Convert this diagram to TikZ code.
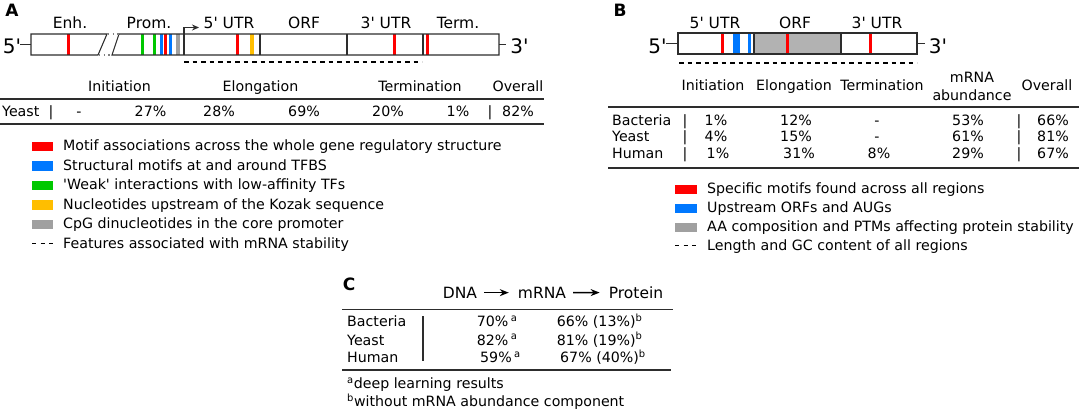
\documentclass[tikz,border=0pt]{standalone}
\usepackage{fontspec}
\setmainfont{DejaVu Sans}[Ligatures=TeXOff]
\usetikzlibrary{arrows.meta}

\definecolor{motifred}{RGB}{255,0,0}
\definecolor{motifblue}{RGB}{0,120,255}
\definecolor{motifgreen}{RGB}{0,200,0}
\definecolor{motiforange}{RGB}{255,190,0}
\definecolor{motifgray}{RGB}{160,160,160}
\definecolor{orfgray}{RGB}{178,178,178}
\definecolor{outline}{RGB}{45,45,45}

\begin{document}
\begin{tikzpicture}[x=1pt, y=-1pt,
			every node/.style={inner sep=0pt, anchor=base},
			txt/.style={font=\fontsize{14.2}{17}\selectfont},
			lbl/.style={font=\fontsize{15.5}{18}\selectfont},
			prime/.style={font=\fontsize{20}{24}\selectfont},
			panel/.style={font=\fontsize{17}{20}\selectfont\bfseries},
			gene/.style={draw=outline, line width=1.1pt},
			bar/.style={line width=3pt},
			rule/.style={draw=outline, line width=1.5pt},
			stability/.style={dash pattern=on 4.5pt off 4pt, line width=1.2pt},
			arrow/.style={-{Stealth[length=9pt, width=7pt]}, line width=1.4pt, shorten <=7pt, shorten >=9pt}
			]
			\useasboundingbox (0,0) rectangle (1079,410);
			
			% Panel A: gene structure
			\node[panel] (A) at (12,16.7) {A};
			\node[lbl] (enh) at (70,28.5) {Enh.};
			\node[lbl] (prom) at (149,28.5) {Prom.};
			\node[lbl] (a-utr5) at (229,28.5) {5' UTR};
			\node[lbl] (a-orf) at (304,28.5) {ORF};
			\node[lbl] (a-utr3) at (386,28.5) {3' UTR};
			\node[lbl] (term) at (458,28.5) {Term.};
			\node[prime] (a-5p) at (12,53) {5'};
			\node[prime] (a-3p) at (519.5,53) {3'};
			
			\draw[bar, motifred] (68,34) -- (68,55);
			\draw[bar, motifgreen] (142,34) -- (142,55);
			\draw[bar, motifgreen] (154,34) -- (154,55);
			\draw[bar, motifblue] (161,34) -- (161,55);
			\draw[bar, motifred] (165.5,34) -- (165.5,55);
			\draw[bar, motifblue] (170,34) -- (170,55);
			\draw[line width=4pt, motifgray] (178,34) -- (178,55);
			\draw[bar, motifred] (237,34) -- (237,55);
			\draw[line width=4pt, motiforange] (252,34) -- (252,55);
			\draw[bar, motifred] (394,34) -- (394,55);
			\draw[bar, motifred] (427,34) -- (427,55);
			
			\draw[gene] (107,34) -- (31,34) -- (31,55) -- (98,55) -- cycle;
			\draw[gene] (119,34) -- (499,34) -- (499,55) -- (112,55) -- cycle;
			\draw[gene, draw=gray, dash pattern=on 1.2pt off 3.5pt] (108,34) -- (119,34);
			\draw[gene, draw=gray, dash pattern=on 1.2pt off 3.5pt] (99,55) -- (112,55);
			\draw[gene] (184,34) -- (184,55);
			\draw[gene] (260,34) -- (260,55);
			\draw[gene] (347,34) -- (347,55);
			\draw[gene] (423,34) -- (423,55);
			\draw[gene] (20,44.5) -- (31,44.5);
			\draw[gene] (499,44.5) -- (506,44.5);
			\draw[gene, -{Stealth[length=7pt, width=6pt]}] (184,34) -- (184,27.5) -- (199,27.5);
			\draw[stability] (184,62) -- (422,62);
			
			% Panel A: table
			\node[txt] (a-ini) at (119.5,91.5) {Initiation};
			\node[txt] (a-elo) at (260.5,91.5) {Elongation};
			\node[txt] (a-ter) at (420,91.5) {Termination};
			\node[txt] (a-all) at (518,91.5) {Overall};
			\draw[rule] (0,99) -- (544,99);
			\node[txt, anchor=base west] (a-yeast) at (2,116.5) {Yeast};
			\node[txt] (a-bar1) at (51,116.5) {|};
			\node[txt] (a-v1) at (79,116.5) {-};
			\node[txt] (a-v2) at (150.5,116.5) {27\%};
			\node[txt] (a-v3) at (219,116.5) {28\%};
			\node[txt] (a-v4) at (304,116.5) {69\%};
			\node[txt] (a-v5) at (388,116.5) {20\%};
			\node[txt] (a-v6) at (458,116.5) {1\%};
			\node[txt] (a-bar2) at (490,116.5) {|};
			\node[txt] (a-v7) at (518,116.5) {82\%};
			\draw[rule] (0,124) -- (544,124);
			
			% Panel A: legend
			\fill[motifred] (32,141.5) rectangle (53,151);
			\fill[motifblue] (32,161) rectangle (53,170.5);
			\fill[motifgreen] (32,180.5) rectangle (53,190);
			\fill[motiforange] (32,200) rectangle (53,209.5);
			\fill[motifgray] (32,219.5) rectangle (53,229);
			\draw[line width=1.2pt, dash pattern=on 4pt off 4.5pt] (32,243.5) -- (53,243.5);
			\node[txt, anchor=base west] (a-key1) at (63,150.5) {Motif associations across the whole gene regulatory structure};
			\node[txt, anchor=base west] (a-key2) at (63,170) {Structural motifs at and around TFBS};
			\node[txt, anchor=base west] (a-key3) at (63,189.5) {'Weak' interactions with low-affinity TFs};
			\node[txt, anchor=base west] (a-key4) at (63,209) {Nucleotides upstream of the Kozak sequence};
			\node[txt, anchor=base west] (a-key5) at (63,228.5) {CpG dinucleotides in the core promoter};
			\node[txt, anchor=base west] (a-key6) at (63,248) {Features associated with mRNA stability};
			
			% Panel B: transcript structure
			\node[panel] (B) at (620,16.7) {B};
			\node[lbl] (b-utr5) at (715,28.3) {5' UTR};
			\node[lbl] (b-orf) at (795,28.3) {ORF};
			\node[lbl] (b-utr3) at (877,28.3) {3' UTR};
			\node[prime] (b-5p) at (657.5,53) {5'};
			\node[prime] (b-3p) at (938,53) {3'};
			
			\fill[orfgray] (754,33) rectangle (841,54);
			\draw[bar, motifred] (722,33) -- (722,54);
			\draw[line width=7pt, motifblue] (736,33) -- (736,54);
			\draw[bar, motifblue] (749,33) -- (749,54);
			\draw[bar, motifred] (787,33) -- (787,54);
			\draw[bar, motifred] (870,33) -- (870,54);
			\draw[gene] (678,33) rectangle (917,54);
			\draw[gene] (754,33) -- (754,54);
			\draw[gene] (841,33) -- (841,54);
			\draw[gene] (666,43.5) -- (678,43.5);
			\draw[gene] (917,43.5) -- (925,43.5);
			\draw[stability] (679,63) -- (917,63);
			
			% Panel B: table
			\node[txt] (b-ini) at (713,90.7) {Initiation};
			\node[txt] (b-elo) at (794,90.7) {Elongation};
			\node[txt] (b-ter) at (882,90.7) {Termination};
			\node[txt] (b-mrna) at (972,82.7) {mRNA};
			\node[txt] (b-abund) at (972,100) {abundance};
			\node[txt] (b-all) at (1047,90.7) {Overall};
			\draw[rule] (608,107) -- (1079,107);
			
			\node[txt, anchor=base west] (b-bac) at (612,125) {Bacteria};
			\node[txt] (b-bac0) at (685,125) {|};
			\node[txt] (b-bac1) at (716,125) {1\%};
			\node[txt] (b-bac2) at (796,125) {12\%};
			\node[txt] (b-bac3) at (877,125) {-};
			\node[txt] (b-bac4) at (968,125) {53\%};
			\node[txt] (b-bac5) at (1019,125) {|};
			\node[txt] (b-bac6) at (1053,125) {66\%};
			
			\node[txt, anchor=base west] (b-yea) at (612,141.7) {Yeast};
			\node[txt] (b-yea0) at (685,141.7) {|};
			\node[txt] (b-yea1) at (716,141.7) {4\%};
			\node[txt] (b-yea2) at (796,141.7) {15\%};
			\node[txt] (b-yea3) at (877,141.7) {-};
			\node[txt] (b-yea4) at (968,141.7) {61\%};
			\node[txt] (b-yea5) at (1019,141.7) {|};
			\node[txt] (b-yea6) at (1053,141.7) {81\%};
			
			\node[txt, anchor=base west] (b-hum) at (612,158.3) {Human};
			\node[txt] (b-hum0) at (685,158.3) {|};
			\node[txt] (b-hum1) at (718,158.3) {1\%};
			\node[txt] (b-hum2) at (799,158.3) {31\%};
			\node[txt] (b-hum3) at (879,158.3) {8\%};
			\node[txt] (b-hum4) at (968,158.3) {29\%};
			\node[txt] (b-hum5) at (1019,158.3) {|};
			\node[txt] (b-hum6) at (1053,158.3) {67\%};
			\draw[rule] (608,168) -- (1079,168);
			
			% Panel B: legend
			\fill[motifred] (675,185) rectangle (697,194);
			\fill[motifblue] (675,204) rectangle (697,213);
			\fill[motifgray] (675,223) rectangle (697,232);
			\draw[line width=1.2pt, dash pattern=on 4pt off 4.5pt] (675,245.5) -- (697,245.5);
			\node[txt, anchor=base west] (b-key1) at (707,193.3) {Specific motifs found across all regions};
			\node[txt, anchor=base west] (b-key2) at (707,212.3) {Upstream ORFs and AUGs};
			\node[txt, anchor=base west] (b-key3) at (707,231.3) {AA composition and PTMs affecting protein stability};
			\node[txt, anchor=base west] (b-key4) at (707,250) {Length and GC content of all regions};
			
			% Panel C
			\node[panel] (C) at (349,290.7) {C};
			\node[lbl] (dna) at (460,298.3) {DNA};
			\node[lbl] (mrna) at (542,298.3) {mRNA};
			\node[lbl] (protein) at (636,298.3) {Protein};
			\draw[arrow] (dna) -- (mrna);
			\draw[arrow] (mrna) -- (protein);
			\draw[rule] (342,309.3) -- (673,309.3);
			
			\node[txt, anchor=base west] (c-bac) at (347,326.7) {Bacteria};
			\node[txt, anchor=base west] (c-yea) at (347,345) {Yeast};
			\node[txt, anchor=base west] (c-hum) at (347,362.7) {Human};
			\draw[gene] (423,316) -- (423,361);
			\node[txt, anchor=base west] (c-bac1) at (476.7,326.7) {70\%\,\textsuperscript{a}};
			\node[txt, anchor=base west] (c-yea1) at (476.7,345) {82\%\,\textsuperscript{a}};
			\node[txt, anchor=base west] (c-hum1) at (480,362.7) {59\%\,\textsuperscript{a}};
			\node[txt, anchor=base west] (c-bac2) at (556.7,326.7) {66\% (13\%)\textsuperscript{b}};
			\node[txt, anchor=base west] (c-yea2) at (556.7,345) {81\% (19\%)\textsuperscript{b}};
			\node[txt, anchor=base west] (c-hum2) at (560,362.7) {67\% (40\%)\textsuperscript{b}};
			\draw[rule] (342,370) -- (671,370);
			
			\node[txt, anchor=base west] (c-noteA) at (347,388.3) {\textsuperscript{a}deep learning results};
			\node[txt, anchor=base west] (c-noteB) at (347,406.7) {\textsuperscript{b}without mRNA abundance component};
		\end{tikzpicture}
\end{document}
